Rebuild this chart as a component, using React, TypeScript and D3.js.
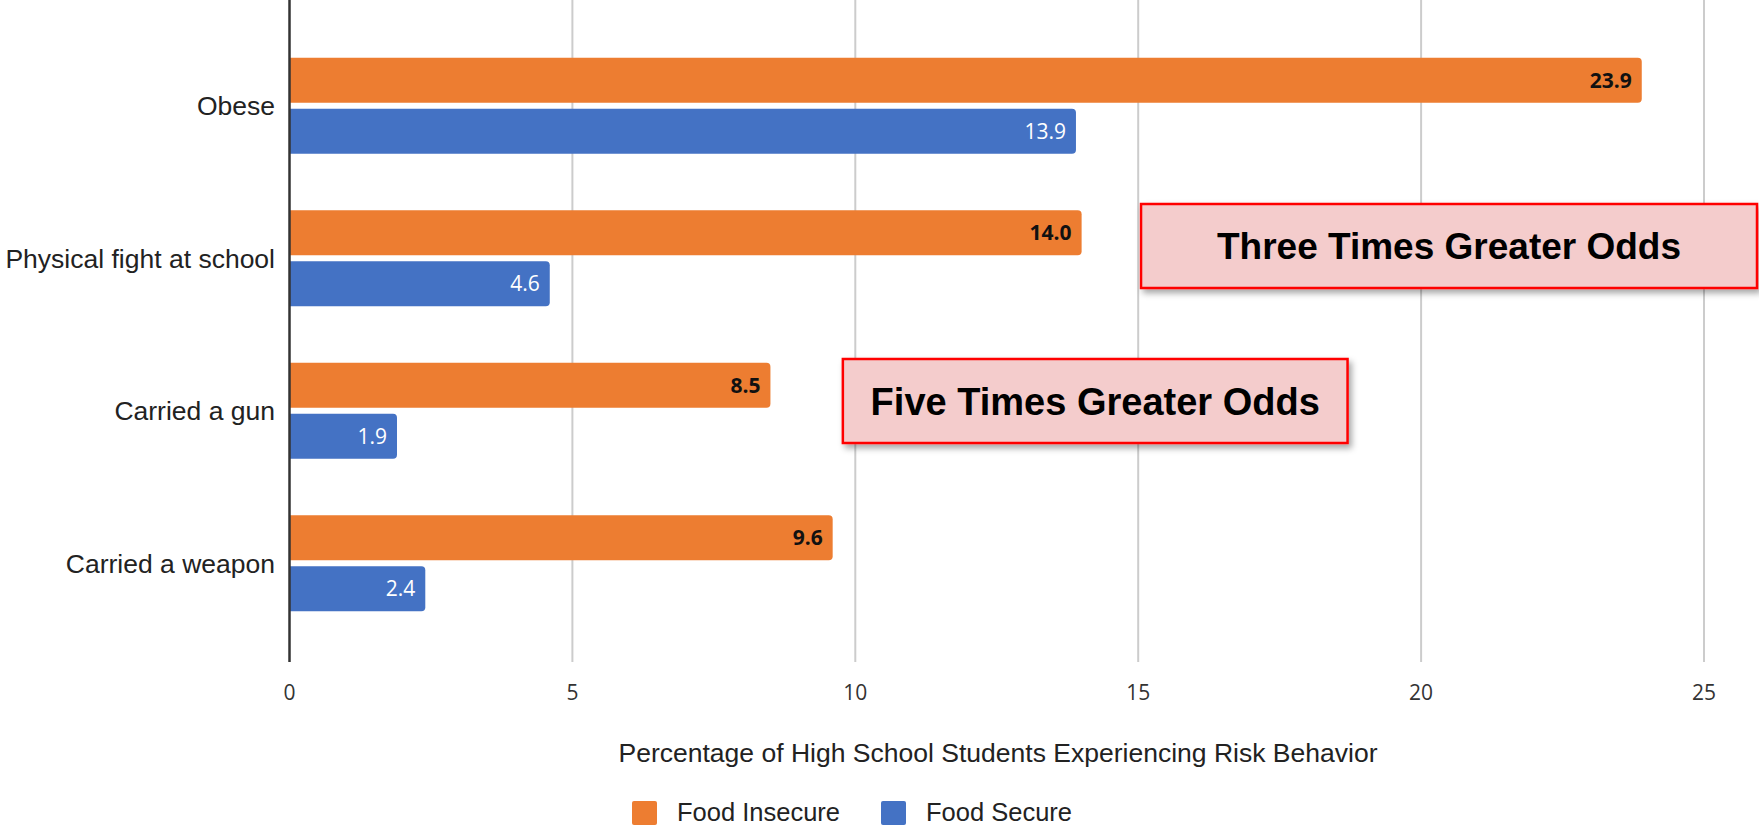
import React from 'react';
import * as d3 from 'd3';

const categories = ['Obese', 'Physical fight at school', 'Carried a gun', 'Carried a weapon'];
const seriesNames = ['Food Insecure', 'Food Secure'];
const foodInsecure = [23.9, 14.0, 8.5, 9.6];
const foodSecure = [13.9, 4.6, 1.9, 2.4];
const xTicks = [0, 5, 10, 15, 20, 25];
const xTitle = 'Percentage of High School Students Experiencing Risk Behavior';

// callout boxes, x given in data units
const callouts = [
  { text: 'Three Times Greater Odds', x0: 15.05, x1: 25.95, y0: 204, y1: 288, fontSize: 37 },
  { text: 'Five Times Greater Odds', x0: 9.78, x1: 18.7, y0: 359, y1: 443, fontSize: 38 },
];

const W = 1759;
const H = 827;
const colors = ['#ED7D31', '#4472C4'];

// bar path with rounded right end only
function barPath(x0: number, x1: number, y: number, h: number, r: number) {
  const rr = Math.min(r, (x1 - x0) / 2, h / 2);
  return `M${x0},${y}H${x1 - rr}Q${x1},${y} ${x1},${y + rr}V${y + h - rr}Q${x1},${y + h} ${x1 - rr},${y + h}H${x0}Z`;
}

export default function App() {
  const x = d3.scaleLinear().domain([0, 25]).range([289.5, 1704]);
  const y = d3.scaleBand<string>().domain(categories).range([29.5, 639.5]).paddingInner(0.37).paddingOuter(0.185);
  const ySub = d3.scaleBand<string>().domain(seriesNames).range([0, y.bandwidth()]).paddingInner(0.12);
  const values = [foodInsecure, foodSecure];

  return (
    <svg width={W} height={H} style={{ position: 'absolute', left: 0, top: 0, background: '#fff' }}>
      <defs>
        <filter id="shadow" x="-10%" y="-20%" width="130%" height="160%">
          <feDropShadow dx="3" dy="4" stdDeviation="3" floodColor="#000" floodOpacity="0.35" />
        </filter>
      </defs>

      {/* gridlines */}
      {xTicks.filter(t => t > 0).map(t => (
        <line key={t} x1={x(t)} x2={x(t)} y1={0} y2={662} stroke="#cccccc" strokeWidth={2} />
      ))}

      {/* bars */}
      {categories.map((c, i) => (
        <g key={c} transform={`translate(0,${y(c)})`}>
          {seriesNames.map((s, j) => {
            const v = values[j][i];
            const by = ySub(s)!;
            const bh = ySub.bandwidth();
            return (
              <g key={s}>
                <path d={barPath(x(0), x(v), by, bh, 4)} fill={colors[j]} />
                <text
                  x={x(v) - 10}
                  y={by + bh / 2}
                  dy="0.36em"
                  textAnchor="end"
                  fontFamily="'Open Sans', sans-serif"
                  fontSize={21}
                  fontWeight={j === 0 ? 700 : 400}
                  fill={j === 0 ? '#111' : '#fff'}
                >
                  {v.toFixed(1)}
                </text>
              </g>
            );
          })}
          <text
            x={275}
            y={y.bandwidth() / 2}
            dy="0.36em"
            textAnchor="end"
            fontFamily="'Liberation Sans', Arial, sans-serif"
            fontSize={26.5}
            fill="#222"
          >
            {c}
          </text>
        </g>
      ))}

      {/* y axis line */}
      <line x1={x(0)} x2={x(0)} y1={0} y2={662} stroke="#333" strokeWidth={2.5} />

      {/* x tick labels */}
      {xTicks.map(t => (
        <text key={t} x={x(t)} y={700} textAnchor="middle" fontFamily="'Open Sans', sans-serif" fontSize={21} fill="#333">
          {t}
        </text>
      ))}

      {/* x title */}
      <text
        x={998}
        y={762}
        textAnchor="middle"
        fontFamily="'Liberation Sans', Arial, sans-serif"
        fontSize={25}
        textLength={759}
        lengthAdjust="spacingAndGlyphs"
        fill="#222"
      >
        {xTitle}
      </text>

      {/* legend */}
      {seriesNames.map((s, j) => {
        const lx = j === 0 ? 632 : 881;
        return (
          <g key={s}>
            <rect x={lx} y={801} width={25} height={24} rx={2} fill={colors[j]} />
            <text x={lx + 45} y={821} fontFamily="'Liberation Sans', Arial, sans-serif" fontSize={25.5} fill="#222">
              {s}
            </text>
          </g>
        );
      })}

      {/* callouts */}
      {callouts.map(c => {
        const bx0 = x(c.x0);
        const bx1 = Math.min(x(c.x1), W - 2);
        const cy = (c.y0 + c.y1) / 2;
        return (
          <g key={c.text}>
            <rect
              x={bx0}
              y={c.y0}
              width={bx1 - bx0}
              height={c.y1 - c.y0}
              fill="#F4CCCC"
              stroke="#FF0000"
              strokeWidth={2.5}
              filter="url(#shadow)"
            />
            <text
              x={(bx0 + bx1) / 2}
              y={cy}
              dy="0.36em"
              textAnchor="middle"
              fontFamily="'Liberation Sans', Arial, sans-serif"
              fontWeight={700}
              fontSize={c.fontSize}
              fill="#000"
            >
              {c.text}
            </text>
          </g>
        );
      })}
    </svg>
  );
}
